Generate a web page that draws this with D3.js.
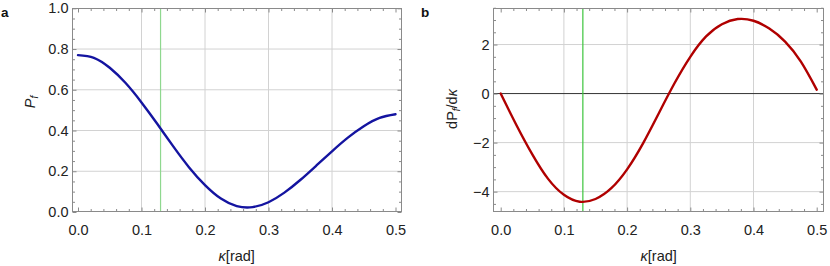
<!DOCTYPE html>
<html>
<head>
<meta charset="utf-8">
<script src="https://cdn.jsdelivr.net/npm/d3@7"></script>
<style>
  body { margin: 0; background: #fff; }
  svg { display: block; font-family: "Liberation Sans", Arial, sans-serif; }
  .tick text { font-size: 14.5px; fill: #222; }
</style>
</head>
<body>
<svg id="chart" width="830" height="266"></svg>
<script>
// kappa samples (rad)
const kappa = [0, 0.025, 0.05, 0.075, 0.1, 0.125, 0.15, 0.175, 0.2, 0.225, 0.25,
  0.275, 0.3, 0.325, 0.35, 0.375, 0.4, 0.425, 0.45, 0.475, 0.5]
// panel a : P_f
const pf = [0.770, 0.757, 0.708, 0.633, 0.538, 0.432, 0.322, 0.219, 0.132, 0.066, 0.029,
  0.024, 0.048, 0.095, 0.157, 0.227, 0.298, 0.365, 0.421, 0.462, 0.480]
// panel b : dP_f/dkappa
const dpf = [0, -1.29, -2.48, -3.48, -4.13, -4.41, -4.30, -3.86, -3.09, -2.04, -0.81,
  0.42, 1.50, 2.33, 2.83, 3.04, 2.97, 2.65, 2.12, 1.30, 0.16]
const kappaMark = 0.13
const xTicks = [0, 0.1, 0.2, 0.3, 0.4, 0.5]
const yTicksA = [0, 0.2, 0.4, 0.6, 0.8, 1.0]
const yTicksB = [-4, -2, 0, 2]

const svg = d3.select("#chart")
const gridColor = "#d2d2d2"
const frameColor = "#8a8a8a"

const drawPanel = (opt) => {
  const { frame, xRange, yDomain, yRange, yTicks, yMinor, values, color, greenColor, letter, ylab, zeroLine } = opt
  const g = svg.append("g")
  const x = d3.scaleLinear().domain([0, 0.5]).range(xRange)
  const y = d3.scaleLinear().domain(yDomain).range(yRange)
  const xMinor = d3.range(0, 0.5001, 0.02).map(v => +v.toFixed(2)).filter(v => !xTicks.some(t => Math.abs(t - v) < 1e-6))

  // grid
  g.append("g").selectAll("line").data(xTicks.filter(v => v > 0 && v < 0.5)).join("line")
    .attr("x1", d => x(d)).attr("x2", d => x(d))
    .attr("y1", frame.top).attr("y2", frame.bottom)
    .attr("stroke", gridColor).attr("stroke-width", 1)
  const hGrid = yTicks.filter(v => y(v) > frame.top + 2 && y(v) < frame.bottom - 2 && !(zeroLine && v === 0))
  g.append("g").selectAll("line").data(hGrid).join("line")
    .attr("x1", frame.left).attr("x2", frame.right)
    .attr("y1", d => y(d)).attr("y2", d => y(d))
    .attr("stroke", gridColor).attr("stroke-width", 1)

  if (zeroLine) {
    g.append("line")
      .attr("x1", frame.left).attr("x2", frame.right)
      .attr("y1", y(0)).attr("y2", y(0))
      .attr("stroke", "#333").attr("stroke-width", 1)
  }

  // green marker
  g.append("line")
    .attr("x1", x(kappaMark)).attr("x2", x(kappaMark))
    .attr("y1", frame.top).attr("y2", frame.bottom)
    .attr("stroke", greenColor).attr("stroke-width", 1.2)

  // curve
  const line = d3.line()
    .x((d, i) => x(kappa[i]))
    .y(d => y(d))
    .curve(d3.curveNatural)
  g.append("path")
    .attr("d", line(values))
    .attr("fill", "none")
    .attr("stroke", color)
    .attr("stroke-width", 2.4)
    .attr("stroke-linecap", "round")

  // axes (ticks inward, on all four sides)
  const setup = (sel) => {
    sel.select(".domain").remove()
    sel.selectAll(".tick line").attr("stroke", frameColor)
  }
  g.append("g").attr("transform", `translate(0,${frame.bottom})`)
    .call(d3.axisBottom(x).tickValues(xTicks).tickSize(-4).tickPadding(13).tickFormat(d3.format(".1f"))).call(setup)
  g.append("g").attr("transform", `translate(0,${frame.bottom})`)
    .call(d3.axisBottom(x).tickValues(xMinor).tickSize(-2.5).tickFormat("")).call(setup)
  g.append("g").attr("transform", `translate(0,${frame.top})`)
    .call(d3.axisTop(x).tickValues(xTicks).tickSize(-4).tickFormat("")).call(setup)
  g.append("g").attr("transform", `translate(0,${frame.top})`)
    .call(d3.axisTop(x).tickValues(xMinor).tickSize(-2.5).tickFormat("")).call(setup)

  const yFmt = yDomain[1] > 2 ? (d => d3.format("d")(d).replace("-", "\u2212")) : d3.format(".1f")
  g.append("g").attr("transform", `translate(${frame.left},0)`)
    .call(d3.axisLeft(y).tickValues(yTicks).tickSize(-4).tickPadding(4).tickFormat(yFmt)).call(setup)
  g.append("g").attr("transform", `translate(${frame.left},0)`)
    .call(d3.axisLeft(y).tickValues(yMinor).tickSize(-2.5).tickFormat("")).call(setup)
  g.append("g").attr("transform", `translate(${frame.right},0)`)
    .call(d3.axisRight(y).tickValues(yTicks).tickSize(-4).tickFormat("")).call(setup)
  g.append("g").attr("transform", `translate(${frame.right},0)`)
    .call(d3.axisRight(y).tickValues(yMinor).tickSize(-2.5).tickFormat("")).call(setup)

  // frame
  g.append("rect")
    .attr("x", frame.left).attr("y", frame.top)
    .attr("width", frame.right - frame.left).attr("height", frame.bottom - frame.top)
    .attr("fill", "none").attr("stroke", frameColor).attr("stroke-width", 1)

  // panel letter
  svg.append("text").attr("x", letter.x).attr("y", 17)
    .attr("font-size", 13.5).attr("font-weight", "bold").attr("fill", "#111").text(letter.t)

  // x label
  const xl = svg.append("text")
    .attr("x", (xRange[0] + xRange[1]) / 2).attr("y", 261)
    .attr("text-anchor", "middle").attr("font-size", 14.5).attr("fill", "#222")
  xl.append("tspan").attr("font-style", "italic").text("\u03ba")
  xl.append("tspan").text("[rad]")

  // y label
  const yl = svg.append("text")
    .attr("transform", `translate(${ylab.x},${ylab.y}) rotate(-90)`)
    .attr("text-anchor", "middle").attr("font-size", 14.5).attr("fill", "#222")
  ylab.parts.forEach(p => {
    const t = yl.append("tspan").text(p.t)
    if (p.italic) t.attr("font-style", "italic")
    if (p.sub) t.attr("font-size", 10).attr("dy", 3)
    if (p.up) t.attr("dy", -3)
  })
}

drawPanel({
  frame: { left: 72.5, right: 401.5, top: 8.5, bottom: 211.5 },
  xRange: [78, 395.5],
  yDomain: [0, 1], yRange: [212, 8.3],
  yTicks: yTicksA,
  yMinor: d3.range(0, 1.0001, 0.05).map(v => +v.toFixed(2)).filter(v => !yTicksA.some(t => Math.abs(t - v) < 1e-6)),
  values: pf, color: "#1414a0", greenColor: "#8fd88f",
  letter: { x: 1, t: "a" },
  ylab: { x: 35, y: 102, parts: [{ t: "P", italic: true }, { t: "f", italic: true, sub: true }] },
  zeroLine: false
})

drawPanel({
  frame: { left: 493.5, right: 823.5, top: 8.5, bottom: 211.5 },
  xRange: [500.7, 816.7],
  yDomain: [-4.81, 3.47], yRange: [211.5, 8.5],
  yTicks: yTicksB,
  yMinor: d3.range(-4.5, 3.5001, 0.5).map(v => +v.toFixed(2)).filter(v => !yTicksB.some(t => Math.abs(t - v) < 1e-6)),
  values: dpf, color: "#b00000", greenColor: "#3cc43c",
  letter: { x: 421, t: "b" },
  ylab: { x: 457, y: 109, parts: [{ t: "dP" }, { t: "f", italic: true, sub: true }, { t: "/d", up: true }, { t: "\u03ba", italic: true }] },
  zeroLine: true
})
</script>
</body>
</html>
